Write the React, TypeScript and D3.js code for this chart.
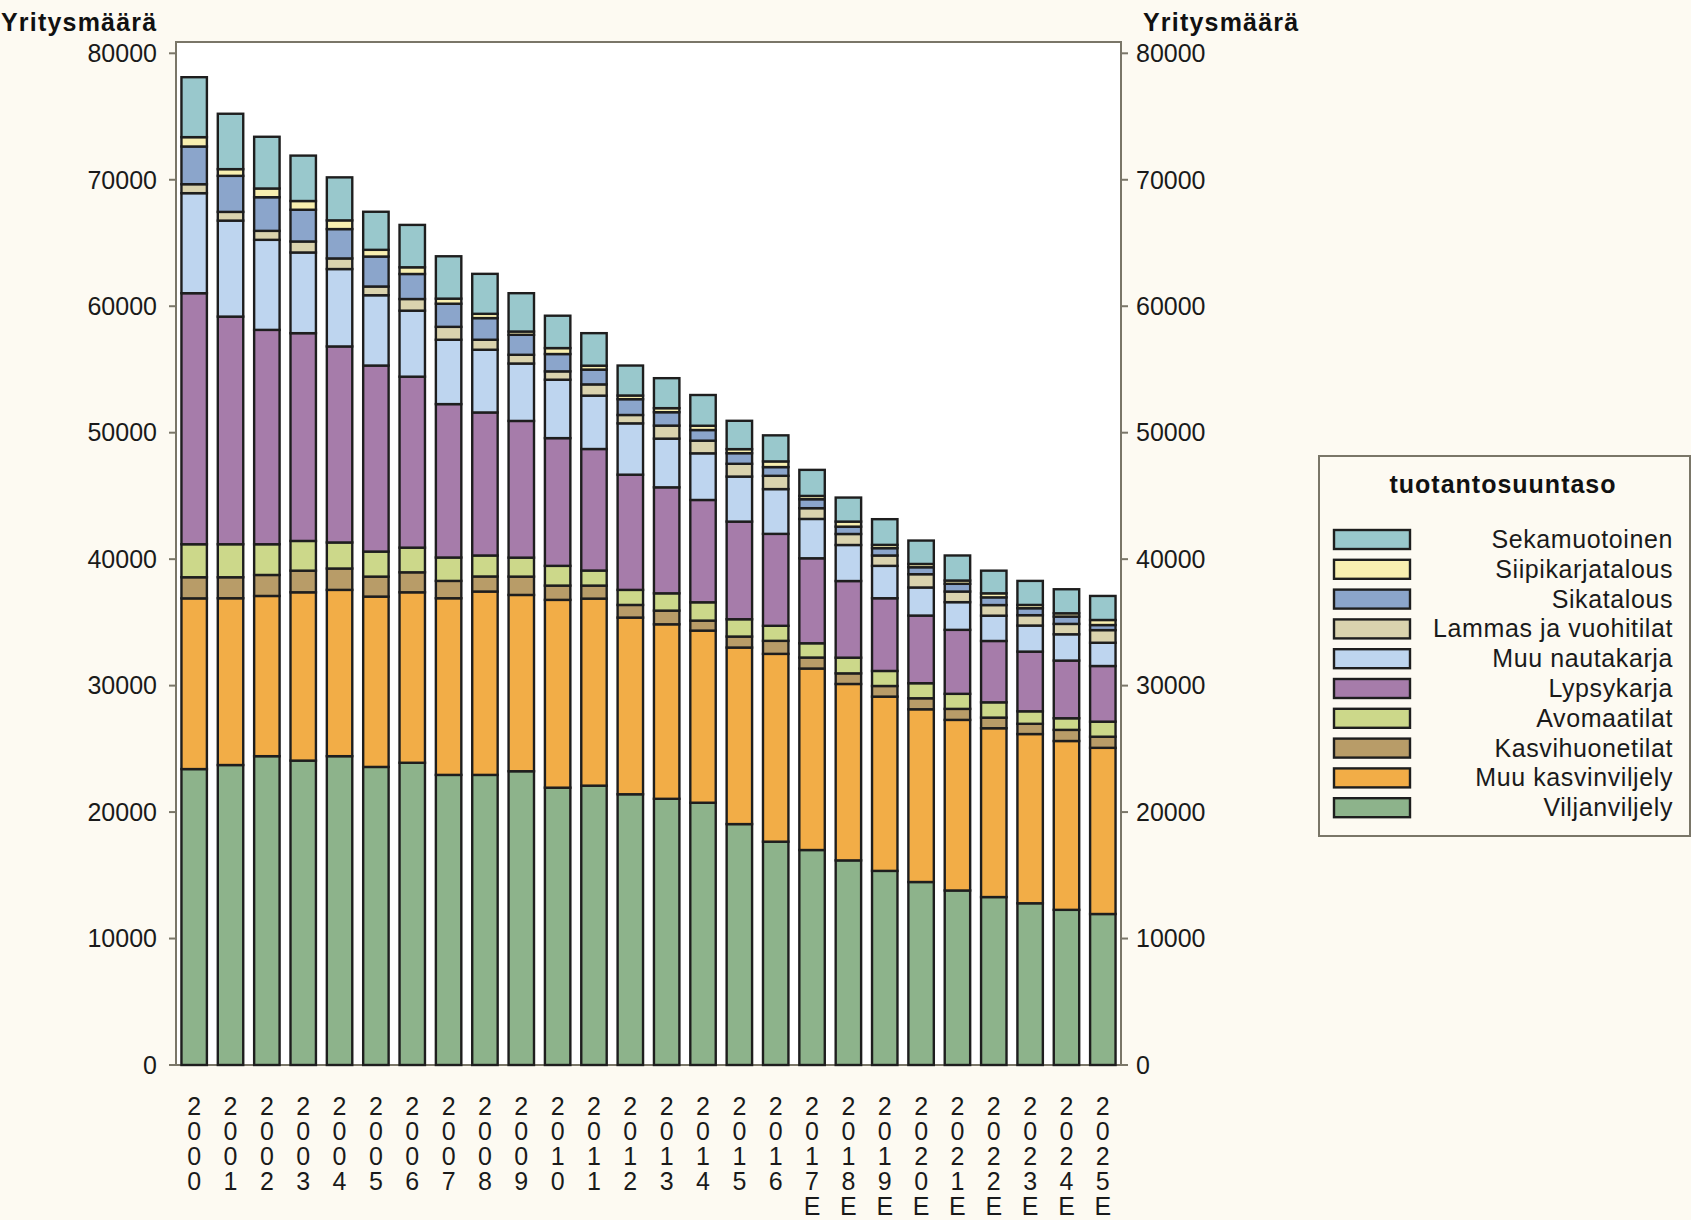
import React from 'react';
import * as d3 from 'd3';

const years = ["2000","2001","2002","2003","2004","2005","2006","2007","2008","2009","2010","2011","2012","2013","2014","2015","2016","2017E","2018E","2019E","2020E","2021E","2022E","2023E","2024E","2025E"];

const viljanviljely = [23400,23720,24420,24070,24420,23570,23900,22940,22940,23230,21930,22090,21410,21050,20740,19050,17660,17000,16180,15350,14470,13800,13280,12790,12270,11940];
const muuKasvinviljely = [13500,13190,12670,13310,13150,13470,13480,13970,14500,13940,14850,14790,13970,13800,13610,13960,14850,14350,13950,13780,13660,13490,13350,13380,13350,13140];
const kasvihuonetilat = [1670,1660,1660,1710,1690,1580,1580,1370,1190,1450,1130,1030,1000,1080,790,870,1030,870,840,840,870,870,840,810,880,880];
const avomaatilat = [2610,2610,2430,2350,2060,1980,1950,1850,1660,1500,1560,1190,1190,1370,1450,1370,1190,1130,1240,1190,1190,1190,1210,990,920,1190];
const lypsykarja = [19850,18000,16950,16430,15500,14710,13520,12130,11310,10810,10100,9610,9110,8380,8090,7720,7270,6720,6060,5750,5350,5060,4850,4720,4560,4400];
const muuNautakarja = [7910,7590,7120,6380,6120,5560,5220,5090,4960,4540,4620,4220,4060,3850,3690,3560,3540,3110,2850,2560,2220,2190,2000,2060,2080,1840];
const lammasJaVuohitilat = [710,690,710,870,840,690,920,1020,790,690,660,890,660,1030,1000,1010,1050,850,870,820,1050,840,840,820,820,1000];
const sikatalous = [2980,2850,2660,2510,2320,2370,1980,1830,1710,1580,1370,1170,1250,1060,840,840,690,710,580,580,550,610,610,550,580,400];
const siipikarjatalous = [740,530,690,690,690,530,530,400,340,260,470,310,290,320,340,320,450,260,400,260,260,260,320,260,260,400];
const sekamuotoinen = [4740,4380,4090,3590,3400,3010,3350,3350,3160,3030,2560,2570,2370,2370,2430,2240,2060,2060,1900,2030,1850,1980,1790,1900,1900,1900];

const seriesNames = ["Viljanviljely","Muu kasvinviljely","Kasvihuonetilat","Avomaatilat","Lypsykarja","Muu nautakarja","Lammas ja vuohitilat","Sikatalous","Siipikarjatalous","Sekamuotoinen"];
const seriesValues = [viljanviljely, muuKasvinviljely, kasvihuonetilat, avomaatilat, lypsykarja, muuNautakarja, lammasJaVuohitilat, sikatalous, siipikarjatalous, sekamuotoinen];
const seriesColors = ["#8DB38B","#F2AD47","#B89C68","#CCD88A","#A67CAA","#BED5EF","#DAD3AE","#8BA5CB","#F8EFB0","#99C8CC"];
const yTicks = [0,10000,20000,30000,40000,50000,60000,70000,80000];

const axisTitle = "Yritysmäärä";
const legendTitle = "tuotantosuuntaso";

export default function App() {
  const W = 1691, H = 1220;
  const left = 176, right = 1121, top = 42, bottom = 1065;
  const font = "'Liberation Sans', Arial, sans-serif";

  const x = d3.scaleBand<string>().domain(years).range([left, right]).paddingInner(0.3).paddingOuter(0.15);
  const y = d3.scaleLinear().domain([0, 80000]).range([bottom, 53.3]);

  const rows = years.map((yr, i) => {
    const o: any = { year: yr };
    seriesNames.forEach((n, j) => { o[n] = seriesValues[j][i]; });
    return o;
  });
  const stacked = d3.stack<any>().keys(seriesNames)(rows);

  const legendX = 1319, legendY = 456;
  const legendItems = seriesNames.map((n, i) => ({ name: n, color: seriesColors[i] })).reverse();

  return (
    <svg width={W} height={H} style={{ position: 'absolute', left: 0, top: 0, display: 'block' }} fontFamily={font}>
      <rect x={0} y={0} width={W} height={H} fill="#FDFAF2" />
      <rect x={left} y={top} width={right - left} height={bottom - top} fill="#FFFFFF" stroke="#7A7668" strokeWidth={2} />

      {stacked.map((s, si) => (
        <g key={seriesNames[si]}>
          {s.map((d, i) => (
            <rect key={i}
              x={x(years[i])!}
              y={y(d[1])}
              width={x.bandwidth()}
              height={Math.max(0, y(d[0]) - y(d[1]))}
              fill={seriesColors[si]}
              stroke="#1E1E1E"
              strokeWidth={2.4} />
          ))}
        </g>
      ))}

      {/* left axis */}
      {yTicks.map(t => (
        <g key={'l' + t}>
          <line x1={169} x2={left} y1={y(t)} y2={y(t)} stroke="#7A7668" strokeWidth={2} />
          <text x={157} y={y(t)} dy="0.35em" textAnchor="end" fontSize={25} fill="#1A1A1A">{t}</text>
        </g>
      ))}
      {/* right axis */}
      {yTicks.map(t => (
        <g key={'r' + t}>
          <line x1={right} x2={1128} y1={y(t)} y2={y(t)} stroke="#7A7668" strokeWidth={2} />
          <text x={1136} y={y(t)} dy="0.35em" textAnchor="start" fontSize={25} fill="#1A1A1A">{t}</text>
        </g>
      ))}

      <text x={1} y={31} fontSize={25} fontWeight="bold" letterSpacing={1.2} fill="#111">{axisTitle}</text>
      <text x={1143} y={31} fontSize={25} fontWeight="bold" letterSpacing={1.2} fill="#111">{axisTitle}</text>

      {/* x labels, vertical characters */}
      {years.map(yr => (
        <g key={'x' + yr}>
          {yr.split('').map((ch, k) => (
            <text key={k} x={x(yr)! + x.bandwidth() / 2} y={1115 + k * 25} textAnchor="middle" fontSize={25} fill="#1A1A1A">{ch}</text>
          ))}
        </g>
      ))}

      {/* legend */}
      <rect x={legendX} y={legendY} width={1690 - legendX} height={836 - legendY} fill="none" stroke="#7A7668" strokeWidth={2} />
      <text x={1503} y={493} textAnchor="middle" fontSize={25} fontWeight="bold" letterSpacing={1} fill="#111">{legendTitle}</text>
      {legendItems.map((it, i) => (
        <g key={it.name}>
          <rect x={1334} y={530 + i * 29.8} width={76} height={19} fill={it.color} stroke="#1E1E1E" strokeWidth={2.4} />
          <text x={1673} y={548 + i * 29.8} textAnchor="end" fontSize={25} letterSpacing={0.6} fill="#1A1A1A">{it.name}</text>
        </g>
      ))}
    </svg>
  );
}
